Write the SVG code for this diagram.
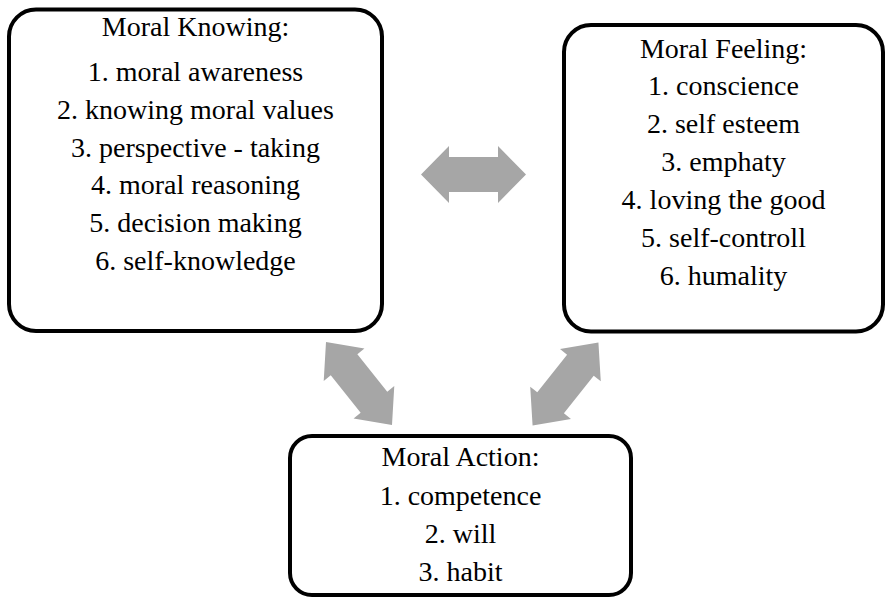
<svg xmlns="http://www.w3.org/2000/svg" width="887" height="597" viewBox="0 0 887 597">
<defs>
<style>
.box{fill:#fff;stroke:#000;stroke-width:4}
.t{font-family:"Liberation Serif","Times New Roman",serif;font-size:28px;fill:#000;text-anchor:middle}
.arr{fill:#A6A6A6}
</style>
<path id="harrow" d="M-52.5,0 L-24.5,-28.5 L-24.5,-17.5 L24.5,-17.5 L24.5,-28.5 L52.5,0 L24.5,28.5 L24.5,17.5 L-24.5,17.5 L-24.5,28.5 Z"/>
<path id="darrow" d="M-53,0 L-24,-26 L-24,-17 L24,-17 L24,-26 L53,0 L24,26 L24,17 L-24,17 L-24,26 Z"/>
</defs>
<rect width="887" height="597" fill="#fff"/>
<g id="connectors" class="arr">
<use href="#harrow" transform="translate(473.5,174.5)"/>
<use href="#darrow" transform="translate(359,383.5) rotate(51.5)"/>
<use href="#darrow" transform="translate(565.5,384) rotate(-51.6)"/>
</g>
<g id="moral-knowing">
<rect class="box" x="9" y="9.5" width="373" height="321.5" rx="27" ry="27"/>
<text class="t" x="195.5" y="36">Moral Knowing:</text>
<text class="t" x="195.5" y="81">1. moral awareness</text>
<text class="t" x="195.5" y="119">2. knowing moral values</text>
<text class="t" x="195.5" y="157">3. perspective - taking</text>
<text class="t" x="195.5" y="194">4. moral reasoning</text>
<text class="t" x="195.5" y="232">5. decision making</text>
<text class="t" x="195.5" y="270">6. self-knowledge</text>
</g>
<g id="moral-feeling">
<rect class="box" x="564" y="25" width="319" height="306.5" rx="27" ry="27"/>
<text class="t" x="723.5" y="58">Moral Feeling:</text>
<text class="t" x="723.5" y="95">1. conscience</text>
<text class="t" x="723.5" y="133">2. self esteem</text>
<text class="t" x="723.5" y="171">3. emphaty</text>
<text class="t" x="723.5" y="209">4. loving the good</text>
<text class="t" x="723.5" y="247">5. self-controll</text>
<text class="t" x="723.5" y="285">6. humality</text>
</g>
<g id="moral-action">
<rect class="box" x="290" y="436" width="341" height="159" rx="22" ry="22"/>
<text class="t" x="460.5" y="466">Moral Action:</text>
<text class="t" x="460.5" y="505">1. competence</text>
<text class="t" x="460.5" y="543">2. will</text>
<text class="t" x="460.5" y="581">3. habit</text>
</g>
</svg>
